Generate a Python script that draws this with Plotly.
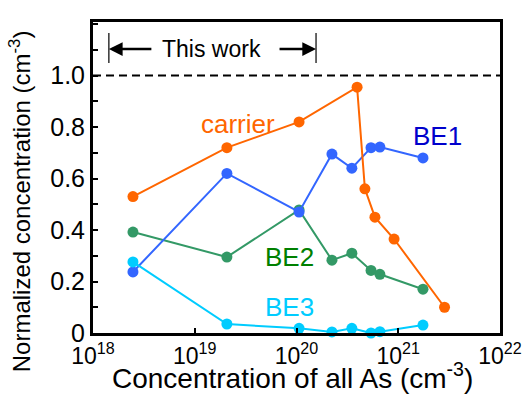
import plotly.graph_objects as go

# ---- data ----
carrier_x = [2.47e18, 2.07e19, 1.06e20, 3.94e20, 4.7e20, 5.9e20, 9.1e20, 2.85e21]
carrier_y = [0.53, 0.72, 0.82, 0.955, 0.56, 0.45, 0.365, 0.10]

be_x = [2.47e18, 2.07e19, 1.06e20, 2.23e20, 3.5e20, 5.4e20, 6.6e20, 1.75e21]
be1_y = [0.237, 0.62, 0.47, 0.695, 0.64, 0.72, 0.722, 0.68]
be2_y = [0.392, 0.295, 0.478, 0.283, 0.31, 0.243, 0.228, 0.17]
be3_y = [0.276, 0.035, 0.018, 0.004, 0.018, 0.0, 0.005, 0.031]

x_tickvals = [1e18, 1e19, 1e20, 1e21, 1e22]
x_ticktext = ["10<sup>18</sup>", "10<sup>19</sup>", "10<sup>20</sup>", "10<sup>21</sup>", "10<sup>22</sup>"]
y_tickvals = [0, 0.2, 0.4, 0.6, 0.8, 1.0]
y_ticktext = ["0", "0.2", "0.4", "0.6", "0.8", "1.0"]

FONT = "Arial, Liberation Sans, sans-serif"

fig = go.Figure()

def add(x, y, color):
    fig.add_trace(go.Scatter(
        x=x, y=y, mode="lines+markers",
        line=dict(color=color, width=2),
        marker=dict(color=color, size=11),
        cliponaxis=False, showlegend=False))

add(be_x, be2_y, "#339966")
add(be_x, be1_y, "#3366FF")
add(be_x, be3_y, "#00CCFF")
add(carrier_x, carrier_y, "#FF6600")

# reference line at 1.0
fig.add_shape(type="line", xref="paper", x0=0, x1=1, yref="y", y0=1.0, y1=1.0,
              line=dict(color="black", width=2, dash="8px,5px"))

# "This work" range bars
for xp in (0.039, 0.548):
    fig.add_shape(type="line", xref="paper", yref="paper", x0=xp, x1=xp,
                  y0=0.868, y1=0.965, line=dict(color="black", width=1.2))

ann = []
ann.append(dict(xref="paper", yref="paper", x=0.039, y=0.913, ax=44, ay=0,
                text="", showarrow=True, arrowhead=2, arrowsize=1.1, arrowwidth=2.5,
                arrowcolor="black", standoff=0))
ann.append(dict(xref="paper", yref="paper", x=0.548, y=0.913, ax=-38, ay=0,
                text="", showarrow=True, arrowhead=2, arrowsize=1.1, arrowwidth=2.5,
                arrowcolor="black", standoff=0))
ann.append(dict(xref="paper", yref="paper", x=0.292, y=0.913, text="This work",
                xanchor="center", yanchor="middle",
                showarrow=False, font=dict(family=FONT, size=23, color="black")))

def lab(x, y, t, c):
    ann.append(dict(xref="x", yref="y", x=x, y=y, text=t, showarrow=False,
                    xanchor="center", yanchor="middle",
                    font=dict(family=FONT, size=26, color=c)))

lab(19.425, 0.81, "carrier", "#FF6600")
lab(21.39, 0.765, "BE1", "#0000CC")
lab(19.936, 0.295, "BE2", "#008000")
lab(19.93, 0.10, "BE3", "#00CCFF")

# axis titles (placed as annotations to match the reference offsets)
ann.append(dict(xref="paper", yref="paper", x=0.491, y=-0.139,
                text="Concentration of all As (cm<sup>-3</sup>)", showarrow=False,
                xanchor="center", yanchor="middle",
                font=dict(family=FONT, size=28, color="black")))
ann.append(dict(xref="paper", yref="paper", x=-0.179, y=0.424, textangle=-90,
                text="Normalized concentration (cm<sup>-3</sup>)", showarrow=False,
                xanchor="center", yanchor="middle",
                font=dict(family=FONT, size=24, color="black")))

fig.update_layout(
    width=532, height=394,
    margin=dict(l=93, r=32, t=22, b=61),
    plot_bgcolor="white", paper_bgcolor="white",
    font=dict(family=FONT, size=24, color="black"),
    annotations=ann,
    xaxis=dict(type="log", range=[18, 22], tickvals=x_tickvals, ticktext=x_ticktext,
               ticks="inside", ticklen=5, tickwidth=2, tickcolor="black",
               showline=True, linewidth=3, linecolor="black", mirror=True,
               showgrid=False, zeroline=False, automargin=False,
               tickfont=dict(size=23)),
    yaxis=dict(range=[0, 1.208], tickvals=y_tickvals, ticktext=y_ticktext,
               ticks="inside", ticklen=5, tickwidth=2, tickcolor="black",
               minor=dict(ticks="inside", dtick=0.1, tick0=0.1, ticklen=5, tickwidth=2,
                          tickcolor="black", showgrid=False),
               showline=True, linewidth=3, linecolor="black", mirror=True,
               showgrid=False, zeroline=False, automargin=False,
               tickfont=dict(size=25)),
)

fig.write_html("out.html")
